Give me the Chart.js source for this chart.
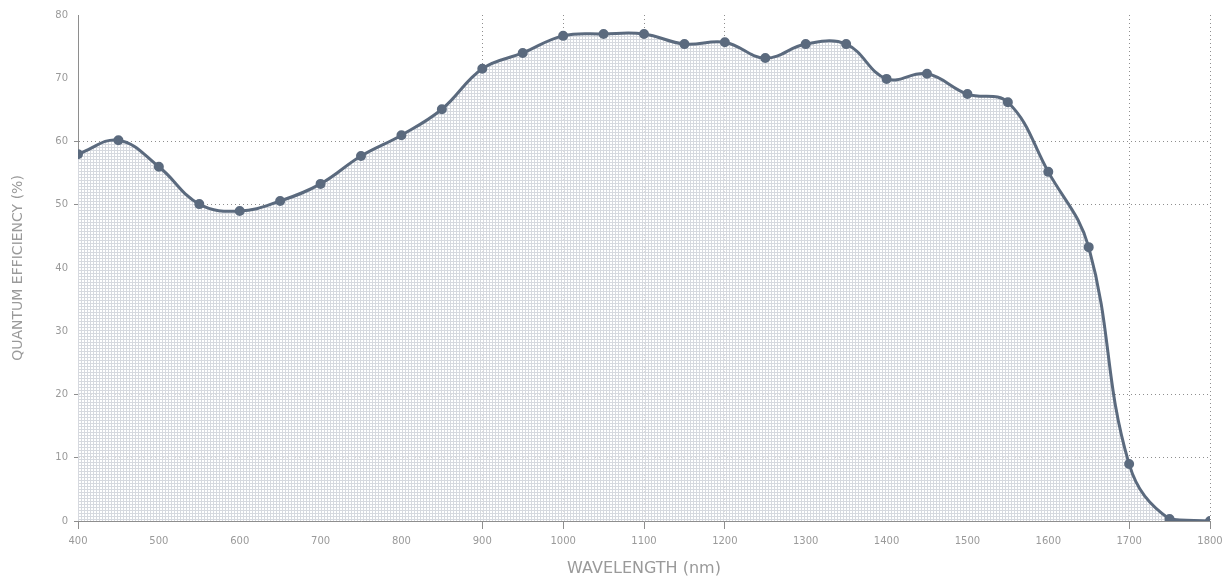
<!DOCTYPE html>
<html>
<head>
<meta charset="utf-8">
<script src="https://cdn.jsdelivr.net/npm/chart.js@4"></script>
<style>
html,body{margin:0;padding:0;background:#fff;}
#wrap{width:1224px;height:578px;position:relative;}
</style>
</head>
<body>
<div id="wrap"><canvas id="c" width="1224" height="578"></canvas></div>
<script>
const wavelengths = [400,450,500,550,600,650,700,750,800,850,900,950,1000,1050,1100,1150,1200,1250,1300,1350,1400,1450,1500,1550,1600,1650,1700,1750,1800];
const efficiency = [58,60.2,56,50.1,49,50.6,53.3,57.7,61,65.1,71.5,74,76.7,77,77,75.4,75.7,73.2,75.4,75.4,69.9,70.7,67.5,66.2,55.2,43.3,9,0.3,0];
const xTicksShown = [400,900,1000,1100,1200,1700,1800];
const yGridShown = [0,10,20,50,60];
const xTitle = 'WAVELENGTH (nm)';
const yTitle = 'QUANTUM EFFICIENCY (%)';

function makePattern(){
  const p = document.createElement('canvas');
  p.width = 3; p.height = 3;
  const g = p.getContext('2d');
  g.fillStyle = 'rgba(255,255,255,0.7)';
  g.fillRect(0,0,3,3);
  g.fillStyle = '#d6d9df';
  g.fillRect(0,0,3,1);
  g.fillRect(0,0,1,3);
  return g.createPattern(p,'repeat');
}
const ctx = document.getElementById('c').getContext('2d');
const gridColor = '#8e8e8e';
new Chart(ctx, {
  type: 'line',
  data: {
    datasets: [{
      data: wavelengths.map((w,i)=>({x:w,y:efficiency[i]})),
      borderColor: '#5b6a7e',
      backgroundColor: makePattern(),
      fill: 'origin',
      borderWidth: 3,
      tension: 0.4,
      pointRadius: 3.5,
      pointBackgroundColor: '#5b6a7e',
      pointBorderColor: '#5b6a7e'
    }]
  },
  options: {
    responsive: false,
    animation: false,
    layout: {padding: {top: 15, right: 14, left: 0, bottom: 0}},
    plugins: {legend: {display: false}, tooltip: {enabled: false}},
    scales: {
      x: {
        type: 'linear', min: 400, max: 1800,
        ticks: {stepSize: 100, color: '#9a9a9a', font: {family: 'DejaVu Sans', size: 10}, padding: 6,
                callback: v => String(v)},
        grid: {color: c => xTicksShown.includes(c.tick && c.tick.value) ? gridColor : 'rgba(0,0,0,0)', lineWidth: 1, tickLength: 8},
        border: {dash: [1,3], color: gridColor},
        title: {display: true, text: xTitle, color: '#9a9a9a', font: {family: 'DejaVu Sans', size: 16}, padding: {top: 8, bottom: 0}},
        afterFit: s => { s.height = 57; s.paddingRight = 0; s.paddingLeft = 0; }
      },
      y: {
        min: 0, max: 80,
        ticks: {stepSize: 10, color: '#9a9a9a', font: {family: 'DejaVu Sans', size: 10}, padding: 6},
        grid: {color: c => yGridShown.includes(c.tick && c.tick.value) ? gridColor : 'rgba(0,0,0,0)', lineWidth: 1, tickLength: 4},
        border: {dash: [1,3], color: gridColor},
        title: {display: true, text: yTitle, color: '#9a9a9a', font: {family: 'DejaVu Sans', size: 14}, padding: {top: 10, bottom: 4}},
        afterFit: s => { s.width = 78; }
      }
    }
  },
  plugins: [{
    id: 'dashgrid',
    beforeInit(chart){
      chart.options.scales.x.grid.borderDash = [1,3];
      chart.options.scales.y.grid.borderDash = [1,3];
    }
  }]
});
</script>
</body>
</html>
